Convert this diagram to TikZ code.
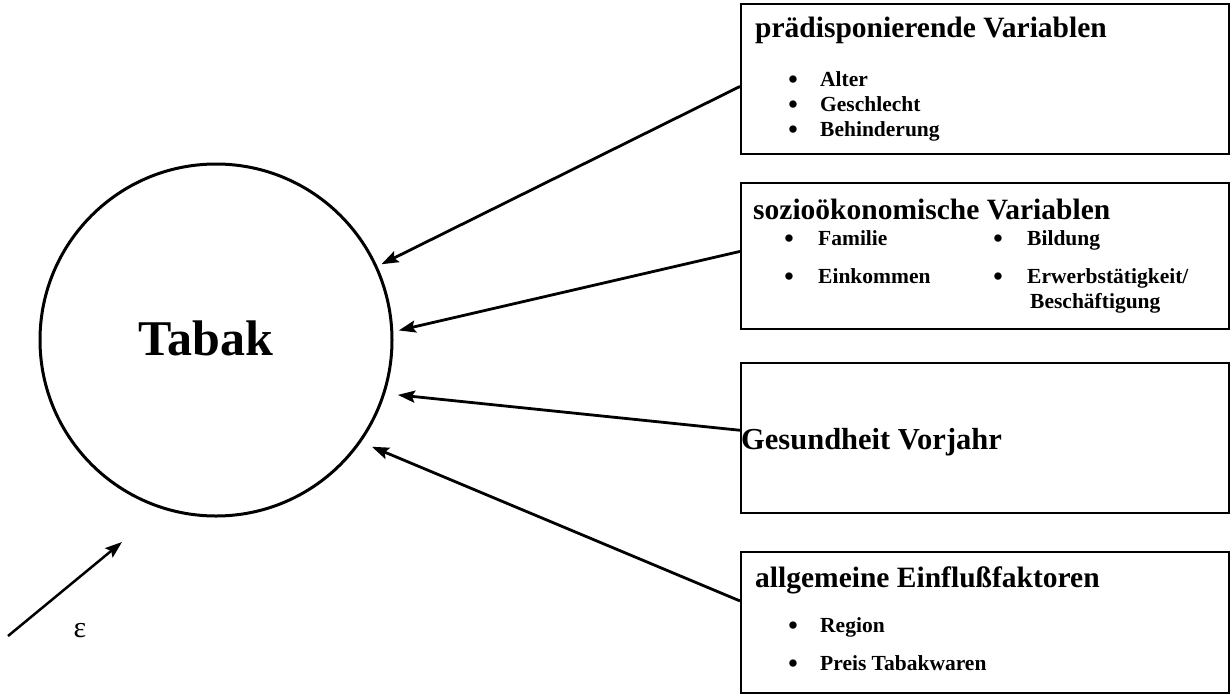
\documentclass[tikz,border=0pt]{standalone}
\usepackage{fontspec}
\setmainfont{Liberation Serif}
\usetikzlibrary{arrows.meta,calc}
\begin{document}
\begin{tikzpicture}[x=1pt,y=-1pt,
  box/.style={draw,line width=1.7pt,anchor=north west,inner sep=0pt},
  title/.style={anchor=base west,inner sep=0pt,font=\bfseries\fontsize{29.5}{34}\selectfont},
  item/.style={anchor=base west,inner sep=0pt,font=\bfseries\fontsize{21.5}{25}\selectfont},
  bul/.style={anchor=base,inner sep=0pt,yshift=-2pt,text height=10pt,text depth=0pt,font=\bfseries\fontsize{27}{28}\selectfont},
  arr/.style={line width=2.8pt,-{Stealth[length=17pt,width=12pt,inset=3pt]}}]
\useasboundingbox (0,0) rectangle (1232,697);
% circle
\node[circle,draw,line width=3pt,minimum size=352pt,inner sep=0pt] (c) at (216,340) {};
\node[anchor=base,inner sep=0pt,font=\bfseries\fontsize{50}{60}\selectfont] (tab) at (206,355) {Tabak};
% boxes
\node[box,minimum width=488pt,minimum height=150pt] (b1) at (740,3) {};
\node[box,minimum width=488pt,minimum height=146pt] (b2) at (740,182) {};
\node[box,minimum width=488pt,minimum height=150pt] (b3) at (740,362) {};
\node[box,minimum width=488pt,minimum height=141pt] (b4) at (740,551) {};
% box 1
\node[title] (t1) at (755,37) {prädisponierende Variablen};
\node[bul] (p1) at (793,86) {•};
\node[item] (i1) at (820,86) {Alter};
\node[bul] (p2) at (793,111) {•};
\node[item] (i2) at (820,111) {Geschlecht};
\node[bul] (p3) at (793,136) {•};
\node[item] (i3) at (820,136) {Behinderung};
% box 2
\node[title] (t2) at (753,219) {sozioökonomische Variablen};
\node[bul] (q1) at (789,245) {•};
\node[item] (j1) at (818,245) {Familie};
\node[bul] (q2) at (998,245) {•};
\node[item] (j2) at (1027,245) {Bildung};
\node[bul] (q3) at (789,283) {•};
\node[item] (j3) at (818,283) {Einkommen};
\node[bul] (q4) at (998,283) {•};
\node[item] (j4) at (1027,283) {Erwerbstätigkeit/};
\node[item] (j5) at (1030,308) {Beschäftigung};
% box 3
\node[title,font=\bfseries\fontsize{30.5}{35}\selectfont] (t3) at (741,449) {Gesundheit Vorjahr};
% box 4
\node[title] (t4) at (755,587) {allgemeine Einflußfaktoren};
\node[bul] (r1) at (793,632) {•};
\node[item] (k1) at (820,632) {Region};
\node[bul] (r2) at (793,670) {•};
\node[item] (k2) at (820,670) {Preis Tabakwaren};
% arrows
\draw[arr] ($(b1.north west)!0.55!(b1.south west)$) -- ($(c.center)+(-24.6:182)$);
\draw[arr] ($(b2.north west)!0.47!(b2.south west)$) -- ($(c.center)+(-3:183)$);
\draw[arr] ($(b3.north west)!0.45!(b3.south west)$) -- ($(c.center)+(16.8:190)$);
\draw[arr] ($(b4.north west)!0.35!(b4.south west)$) -- ($(c.center)+(34.4:189)$);
% epsilon
\coordinate (e0) at (8,636);
\coordinate (e1) at (122,542);
\draw[arr,line width=2.5pt] (e0) -- (e1);
\node[anchor=base,inner sep=0pt,font=\fontsize{30}{34}\selectfont] (eps) at (80,637) {ε};
\end{tikzpicture}
\end{document}
